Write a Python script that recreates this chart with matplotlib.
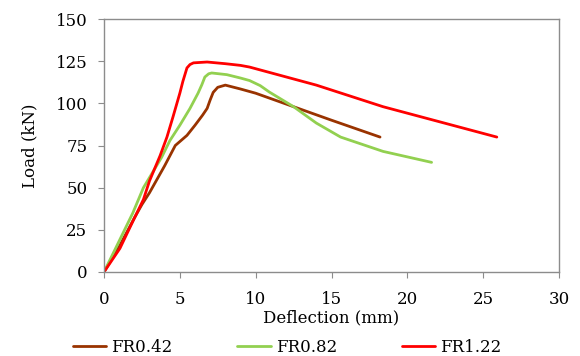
import matplotlib
matplotlib.use("Agg")
import matplotlib.pyplot as plt

plt.rcParams['font.family'] = ['DejaVu Serif']

fr042_x = [0, 1.0, 2.0, 2.5, 3.0, 3.5, 4.0, 4.35, 4.7, 5.47, 6.0, 6.5, 6.8, 7.0, 7.2, 7.5, 8.0, 9.0, 10.0, 12.5, 15.0, 18.2]
fr042_y = [0, 15, 32, 40, 47, 55, 63, 69, 75, 81, 87, 93, 97, 102, 106.5, 109.5, 110.8, 108.5, 106, 98, 90, 80]

fr082_x = [0, 0.6, 1.25, 1.9, 2.6, 3.0, 3.8, 4.35, 5.0, 5.67, 6.2, 6.45, 6.65, 6.9, 7.1, 8.1, 9.0, 9.6, 10.3, 10.9, 12.5, 14.0, 15.6, 18.4, 21.6]
fr082_y = [0, 11, 23, 35, 50, 56, 68, 78, 87, 97, 106, 111, 115.6, 117.5, 118, 117, 115, 113.5, 110.5, 106.7, 98, 88.3, 80, 71.5, 65]

fr122_x = [0, 1.05, 1.9, 2.6, 3.0, 3.7, 4.15, 4.55, 5.0, 5.2, 5.47, 5.67, 5.9, 6.8, 8.0, 9.0, 9.6, 14.0, 18.4, 25.9]
fr122_y = [0, 14, 30, 43, 54, 69, 80, 92, 106, 113, 121, 123, 124, 124.5, 123.5, 122.5, 121.5, 110.8, 98, 80]

labels = ["FR0.42", "FR0.82", "FR1.22"]
colors = ["#993300", "#92D050", "#FF0000"]

fig = plt.figure(figsize=(5.8, 3.56), dpi=100)
ax = fig.add_axes([104/580, (356-272)/356, (559-104)/580, (272-19)/356])

ax.plot(fr042_x, fr042_y, color=colors[0], lw=2.0, label=labels[0], solid_joinstyle='round', solid_capstyle='round')
ax.plot(fr082_x, fr082_y, color=colors[1], lw=2.0, label=labels[1], solid_joinstyle='round', solid_capstyle='round')
ax.plot(fr122_x, fr122_y, color=colors[2], lw=2.0, label=labels[2], solid_joinstyle='round', solid_capstyle='round')

ax.set_xlim(0, 30)
ax.set_ylim(0, 150)
ax.set_xticks(range(0, 31, 5))
ax.set_yticks(range(0, 151, 25))
for s in ax.spines.values():
    s.set_color('#8c8c8c')
    s.set_linewidth(1.0)
ax.tick_params(direction='out', length=4, color='#8c8c8c', labelsize=12)
ax.tick_params(axis='x', pad=10)
ax.tick_params(axis='y', pad=8)
ax.set_xlabel("Deflection (mm)", fontsize=12, labelpad=1)
ax.set_ylabel("Load (kN)", fontsize=12, labelpad=12)

fig.legend(loc='center', bbox_to_anchor=(0.495, 0.025), ncol=3, frameon=False,
           fontsize=12, handlelength=2.0, handletextpad=0.3, columnspacing=3.9)

fig.savefig("out.png", dpi=100)
